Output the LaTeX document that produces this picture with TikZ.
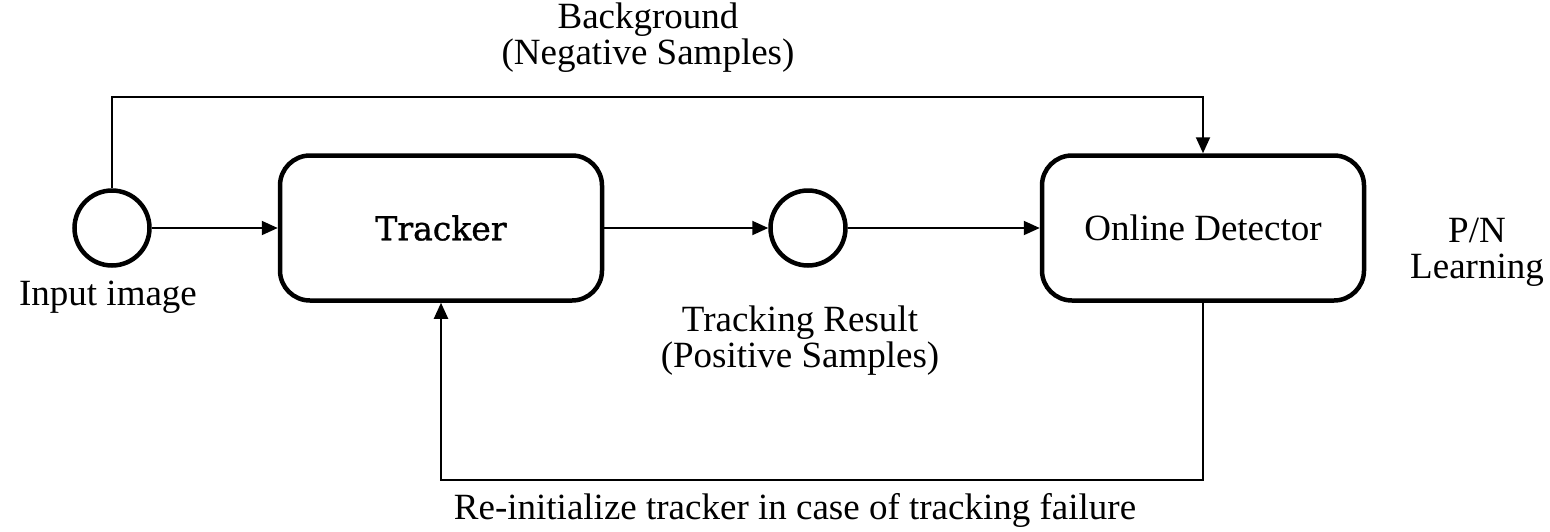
\documentclass[tikz,border=0pt]{standalone}
\usepackage{fontspec}
\setmainfont{Liberation Serif}
\newfontfamily\slabfont[FakeBold=1]{DejaVu Serif}
\usepackage{tikz}
\usetikzlibrary{arrows.meta,positioning,calc}
\tikzset{
  block/.style={draw,line width=4.5pt,rounded corners=30pt,minimum width=322pt,minimum height=145pt},
  junction/.style={draw,circle,line width=4.5pt,minimum size=75pt,inner sep=0pt},
  flow/.style={line width=2pt,-{Triangle[length=16pt,width=14pt]}},
  lbl/.style={align=center,inner sep=0pt},
  every node/.style={font=\fontsize{37}{36}\selectfont}
}

\begin{document}
\begin{tikzpicture}[x=1pt,y=-1pt]
  \useasboundingbox (0,0) rectangle (1550,531);

  % main chain
  \node[junction] (input) at (112,228) {};
  \node[block] (tracker) at (441,228) {\slabfont\fontsize{33}{36}\selectfont Tracker};
  \node[junction] (result) at (808,228) {};
  \node[block] (detector) at (1203,228) {Online Detector};

  % labels
  \node[lbl] (inlbl) at (108,297) {Input image};
  \node[lbl] (reslbl) at (800,341) {Tracking Result\\(Positive Samples)};
  \node[lbl] (neglbl) at (648,38) {Background\\(Negative Samples)};
  \node[lbl] (pnlbl) at (1477,252) {P/N\\Learning};
  \node[lbl] (relbl) at (795,510) {Re-initialize tracker in case of tracking failure};

  % helper points
  \coordinate (top) at (112,97);
  \coordinate (bot) at (1203,480);

  % connectors
  \draw[flow] (input) -- (tracker);
  \draw[flow] (tracker) -- (result);
  \draw[flow] (result) -- (detector);
  \draw[flow] (input.north) -- (top) -| (detector.north);
  \draw[flow] (detector.south) -- (bot) -| (tracker.south);
\end{tikzpicture}
\end{document}
